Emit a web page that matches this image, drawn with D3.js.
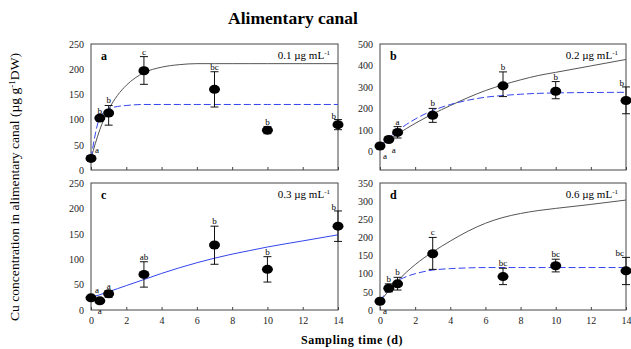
<!DOCTYPE html>
<html><head><meta charset="utf-8">
<script src="https://cdn.jsdelivr.net/npm/d3@7/dist/d3.min.js"></script>
<style>body{margin:0;background:#fff}svg{display:block}text{font-family:"Liberation Serif","DejaVu Serif",serif}</style>
</head><body>
<svg id="c" width="631" height="349"></svg>
<script>
// ---- data ----
const times = [0, 0.5, 1, 3, 7, 10, 14];
const xTicks = [0, 2, 4, 6, 8, 10, 12, 14];

const panelNames = ["a", "b", "c", "d"];
const concLabels = ["0.1", "0.2", "0.3", "0.6"];

const meanA = [23, 103, 113, 197, 160, 79, 90];
const upA   = [28, 108, 128, 225, 195, 86, 100];
const loA   = [18, 98, 89, 170, 125, 72, 80];
const letA  = ["a", "b", "b", "c", "bc", "b", "b"];

const meanB = [25, 55, 88, 168, 305, 280, 237];
const upB   = [30, 60, 115, 200, 370, 325, 300];
const loB   = [20, 50, 62, 135, 255, 245, 175];
const letB  = ["a", "a", "a", "b", "b", "b", "b"];

const meanC = [24, 18, 32, 70, 128, 80, 165];
const upC   = [28, 22, 38, 95, 165, 105, 195];
const loC   = [20, 14, 25, 45, 90, 55, 135];
const letC  = ["a", "a", "a", "ab", "b", "b", "b"];

const meanD = [24, 60, 72, 155, 92, 122, 108];
const upD   = [28, 72, 90, 200, 115, 140, 145];
const loD   = [20, 50, 55, 112, 70, 105, 70];
const letD  = ["a", "b", "b", "c", "bc", "bc", "bc"];

// fitted curves
const curveT = [0, 0.5, 1, 1.5, 2, 3, 4, 5, 6, 7, 8, 9, 10, 12, 14];
const blackA = [23, 80, 120, 148, 168, 193, 204, 209, 211, 211, 211, 211, 211, 211, 211];
const blueA  = [23, 104, 121, 126, 128, 130, 130, 130, 130, 130, 130, 130, 130, 130, 130];
const blackB = [25, 52, 80, 106, 130, 174, 213, 250, 283, 310, 333, 353, 368, 398, 428];
const blueB  = [25, 62, 96, 125, 150, 190, 218, 238, 252, 260, 266, 270, 272, 274, 275];
const blackC = [25, 30, 36, 42, 48, 60, 72, 83, 93, 102, 110, 117, 124, 136, 148];
const blueC  = [25, 30, 36, 42, 48, 60, 72, 83, 93, 102, 110, 117, 124, 136, 148];
const blackD = [24, 53, 80, 104, 125, 160, 190, 217, 239, 255, 266, 274, 280, 291, 303];
const blueD  = [24, 58, 80, 92, 100, 110, 114, 116, 117, 117, 117, 117, 117, 117, 117];

const yDomains = [[0, 250], [-87, 500], [0, 250], [0, 350]];
const yTickSets = [[0, 50, 100, 150, 200, 250], [0, 100, 200, 300, 400, 500], [0, 50, 100, 150, 200, 250], [0, 50, 100, 150, 200, 250, 300, 350]];

// label placement (u = above bar, b = below right, r = upper right)
const placeA = ["r", "u", "u", "u", "u", "u", "u"];
const placeB = ["b", "b", "u", "u", "u", "u", "u"];
const placeC = ["r", "bl", "u", "u", "u", "u", "u"];
const placeD = ["b", "u", "u", "u", "u", "u", "u"];

const panels = [
  {mean: meanA, up: upA, lo: loA, let: letA, place: placeA, black: blackA, blue: blueA},
  {mean: meanB, up: upB, lo: loB, let: letB, place: placeB, black: blackB, blue: blueB},
  {mean: meanC, up: upC, lo: loC, let: letC, place: placeC, black: blackC, blue: blueC},
  {mean: meanD, up: upD, lo: loD, let: letD, place: placeD, black: blackD, blue: blueD}
];

const boxes = [
  {x0: 91, x1: 338, y0: 44, y1: 170},
  {x0: 380, x1: 626, y0: 44, y1: 170},
  {x0: 91, x1: 338, y0: 183, y1: 310},
  {x0: 380, x1: 626, y0: 183, y1: 310}
];

const svg = d3.select("#c");

svg.append("text").attr("x", 293).attr("y", 24).attr("text-anchor", "middle")
  .attr("font-size", 17.5).attr("font-weight", "bold").text("Alimentary canal");

svg.append("text").attr("transform", "translate(19,187) rotate(-90)")
  .attr("text-anchor", "middle").attr("font-size", 12)
  .attr("textLength", 268).attr("lengthAdjust", "spacingAndGlyphs")
  .html('Cu concentration in alimentary canal (µg g<tspan dy="-4" font-size="8">-1</tspan><tspan dy="4">DW)</tspan>');

svg.append("text").attr("x", 352).attr("y", 344).attr("text-anchor", "middle")
  .attr("font-size", 12).attr("font-weight", "bold").attr("letter-spacing", 0.6).text("Sampling time (d)");

panels.forEach((p, i) => {
  const b = boxes[i];
  const x = d3.scaleLinear().domain([0, 14]).range([b.x0, b.x1]);
  const y = d3.scaleLinear().domain(yDomains[i]).range([b.y1, b.y0]);
  const g = svg.append("g");
  const bottomRow = i >= 2;

  // frame
  g.append("rect").attr("x", b.x0).attr("y", b.y0).attr("width", b.x1 - b.x0).attr("height", b.y1 - b.y0)
    .attr("fill", "none").attr("stroke", "#444").attr("stroke-width", 1);

  // x axis
  const xa = d3.axisBottom(x).tickValues(xTicks).tickSizeInner(-3).tickSizeOuter(0).tickPadding(7)
    .tickFormat(bottomRow ? d3.format("d") : () => "");
  const gx = g.append("g").attr("transform", `translate(0,${b.y1})`).call(xa);
  gx.select(".domain").remove();
  gx.selectAll("line").attr("stroke", "#444");
  gx.selectAll("text").attr("font-size", 10).attr("font-family", "'Liberation Serif',serif").attr("fill", "#222");

  // y axis
  const ya = d3.axisLeft(y).tickValues(yTickSets[i]).tickSize(0).tickPadding(7);
  const gy = g.append("g").attr("transform", `translate(${b.x0},0)`).call(ya);
  gy.select(".domain").remove();
  gy.selectAll("text").attr("font-size", 10).attr("font-family", "'Liberation Serif',serif").attr("fill", "#222");

  // curves
  const line = d3.line().x((d, k) => x(curveT[k])).y(d => y(d)).curve(d3.curveMonotoneX);
  if (i !== 2) {
    g.append("path").datum(p.black).attr("d", line).attr("fill", "none")
      .attr("stroke", "#555").attr("stroke-width", 1);
  }
  g.append("path").datum(p.blue).attr("d", line).attr("fill", "none")
    .attr("stroke", "#3344ee").attr("stroke-width", 1)
    .attr("stroke-dasharray", i === 2 ? null : "7,3");

  // error bars
  times.forEach((t, k) => {
    const cx = x(t);
    g.append("line").attr("x1", cx).attr("x2", cx).attr("y1", y(p.up[k])).attr("y2", y(p.lo[k]))
      .attr("stroke", "#111").attr("stroke-width", 1);
    [p.up[k], p.lo[k]].forEach(v => g.append("line").attr("x1", cx - 4).attr("x2", cx + 4)
      .attr("y1", y(v)).attr("y2", y(v)).attr("stroke", "#111").attr("stroke-width", 1));
  });

  // points
  g.selectAll("ellipse").data(p.mean).join("ellipse")
    .attr("cx", (d, k) => x(times[k])).attr("cy", d => y(d))
    .attr("rx", 5.5).attr("ry", 4.5).attr("fill", "#000");

  // letters
  times.forEach((t, k) => {
    const cx = x(t);
    let tx = cx, ty = y(p.up[k]) - 2, anchor = "middle";
    const pl = p.place[k];
    if (pl === "r") { tx = cx + 4; ty = y(p.mean[k]) - 5; anchor = "start"; }
    if (pl === "b") { tx = cx + 3; ty = y(p.mean[k]) + 13; anchor = "start"; }
    if (pl === "bl") { tx = cx; ty = y(p.mean[k]) + 13; }
    if (t === 14) { tx = cx - 2; anchor = "end"; ty = y(p.up[k]) - 1; }
    g.append("text").attr("x", tx).attr("y", ty).attr("text-anchor", anchor)
      .attr("font-size", 9).attr("fill", "#000").text(p.let[k]);
  });

  // panel letter
  g.append("text").attr("x", b.x0 + 10).attr("y", b.y0 + 16).attr("font-size", 12)
    .attr("font-weight", "bold").text(panelNames[i]);

  // concentration label
  g.append("text").attr("x", b.x1 - 8).attr("y", b.y0 + 15).attr("text-anchor", "end")
    .attr("font-size", 11)
    .html(`${concLabels[i]} µg mL<tspan dy="-4" font-size="7">-1</tspan>`);
});
</script>
</body></html>
